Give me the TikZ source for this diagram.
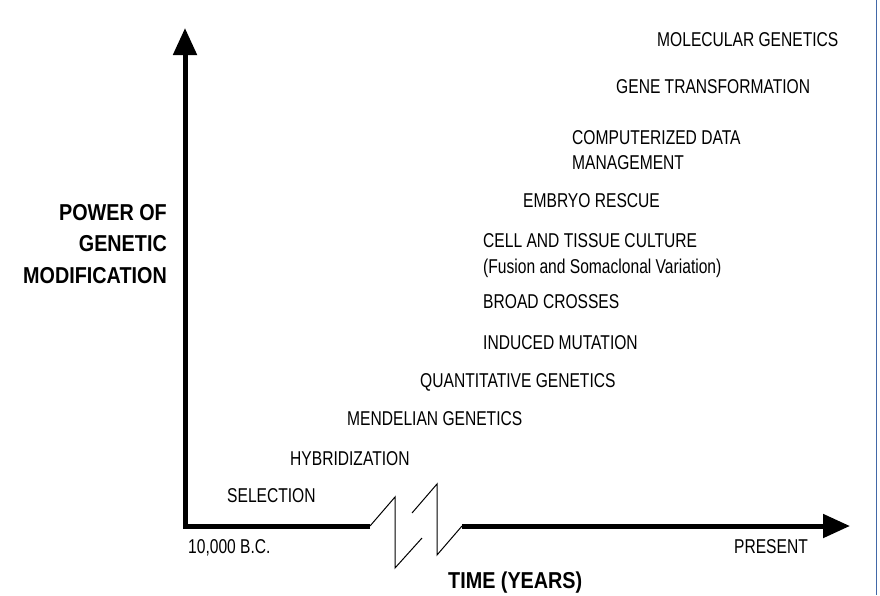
\documentclass[tikz,border=0pt]{standalone}
\usepackage{fontspec}
\newfontfamily\labelfont[FakeStretch=0.78]{Liberation Sans}
\newfontfamily\titlefont[FakeStretch=0.86]{Liberation Sans}
\definecolor{frameblue}{RGB}{66, 104, 168}
\usetikzlibrary{arrows.meta}

\begin{document}
\begin{tikzpicture}[x=1pt, y=-1pt,
  stage/.style={anchor=base west, inner sep=0pt, font=\labelfont\fontsize{20}{26}\selectfont},
  axistitle/.style={inner sep=0pt, font=\titlefont\bfseries\fontsize{23}{31.5}\selectfont},
  axisline/.style={line width=5pt, line join=miter},
  breakline/.style={line width=1pt}]
  \useasboundingbox (0,0) rectangle (880,595);

  % Axes
  \coordinate (origin) at (185,526);
  \coordinate (ytip) at (185,28);
  \coordinate (xtip) at (850,526);
  \coordinate (cutL) at (370,526);
  \coordinate (cutR) at (462,526);
  \draw[axisline, -{Triangle[length=27pt, width=23pt]}] (cutL) -- (origin) -- (ytip);
  \draw[axisline, -{Triangle[length=27pt, width=23pt]}] (cutR) -- (xtip);

  % Axis break
  \draw[breakline] (cutL) -- ++(25,-29) -- ++(0,71) -- ++(27,-30);
  \draw[breakline] (412,513) -- ++(25,-29) -- ++(0,71) -- (cutR);

  % Stages of breeding (multi-line nodes sit on their last baseline)
  \node[stage] (selection) at (227,502) {SELECTION};
  \node[stage] (hybrid) at (290,465) {HYBRIDIZATION};
  \node[stage] (mendel) at (347,425) {MENDELIAN GENETICS};
  \node[stage] (quant) at (420,387) {QUANTITATIVE GENETICS};
  \node[stage] (induced) at (483,349) {INDUCED MUTATION};
  \node[stage] (broad) at (483,308) {BROAD CROSSES};
  \node[stage, align=left] (culture) at (483,273) {CELL AND TISSUE CULTURE\\(Fusion and Somaclonal Variation)};
  \node[stage] (embryo) at (523,207) {EMBRYO RESCUE};
  \node[stage, align=left, font=\labelfont\fontsize{20}{25}\selectfont] (data) at (572,169) {COMPUTERIZED DATA\\MANAGEMENT};
  \node[stage] (transform) at (616,93) {GENE TRANSFORMATION};
  \node[stage] (molecular) at (657,46) {MOLECULAR GENETICS};

  % Axis labels
  \node[stage] (start) at (188,553) {10,000 B.C.};
  \node[stage, anchor=base east] (present) at (808,553) {PRESENT};
  \node[axistitle, anchor=base west] (time) at (448,588) {TIME (YEARS)};
  \node[axistitle, align=right, anchor=base east] (power) at (167,283) {POWER OF\\GENETIC\\MODIFICATION};

  % Page edge
  \draw[frameblue, line width=1pt] (876,0) -- (876,595);
\end{tikzpicture}
\end{document}
